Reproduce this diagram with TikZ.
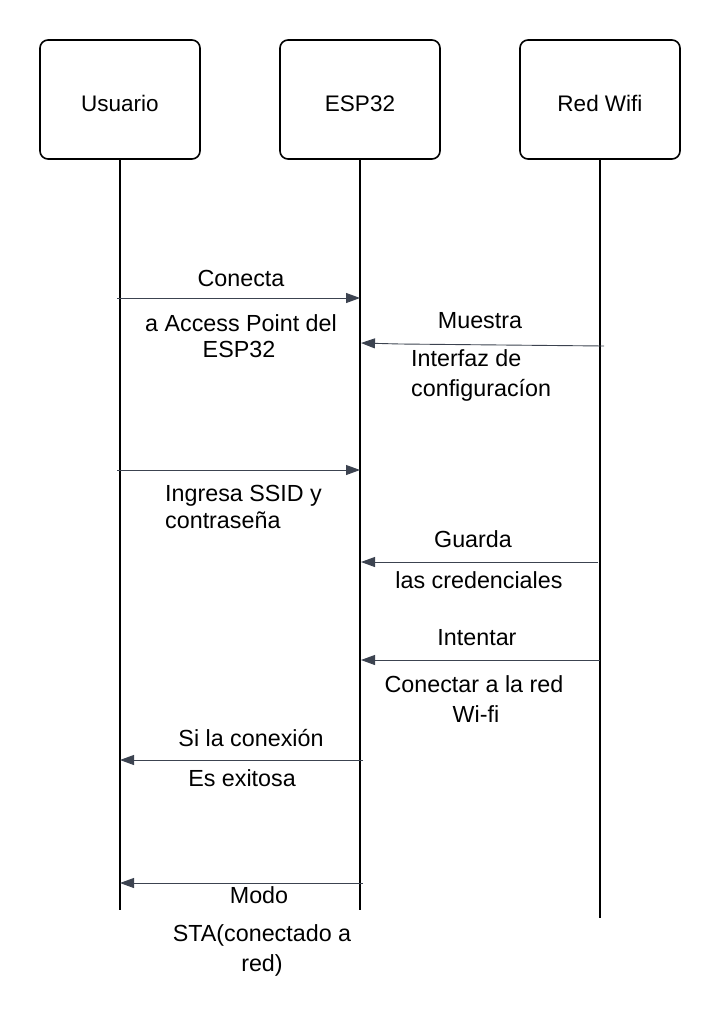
\documentclass[tikz,border=0pt]{standalone}
\usepackage{fontspec}
\setmainfont{Liberation Sans}
\usetikzlibrary{arrows.meta}
\definecolor{msgcol}{HTML}{3C4350}
\tikzset{
  actor/.style={draw=black, line width=1.6pt, rounded corners=8pt, minimum width=160pt, minimum height=119pt, inner sep=0pt, text height=24.5pt, text depth=0pt, font=\fontsize{22.5}{26}\selectfont},
  lifeline/.style={draw=black, line width=1.6pt},
  msg/.style={draw=msgcol, line width=0.9pt, -{Triangle[length=14pt,width=10pt]}},
  lbl/.style={inner sep=0pt, text height=0.72em, text depth=0pt, yshift=-5pt, font=\fontsize{23.3}{28}\selectfont, text=black}
}
\begin{document}
\begin{tikzpicture}[x=1pt,y=-1pt]
\useasboundingbox (0,0) rectangle (720,1021);
% actors
\node[actor] (u) at (120,99.5) {Usuario};
\node[actor] (e) at (360,99.5) {ESP32};
\node[actor] (r) at (600,99.5) {Red Wifi};
% lifeline ends
\coordinate (ub) at (120,910);
\coordinate (eb) at (360,910);
\coordinate (rb) at (600,918);
\draw[lifeline] (u.south) -- (ub);
\draw[lifeline] (e.south) -- (eb);
\draw[lifeline] (r.south) -- (rb);
% message endpoints
\coordinate (m1s) at (117,298); \coordinate (m1e) at (360,298);
\coordinate (m2s) at (604,346); \coordinate (m2k) at (400,344); \coordinate (m2e) at (361,343);
\coordinate (m3s) at (117,470); \coordinate (m3e) at (360,470);
\coordinate (m4s) at (598,562); \coordinate (m4e) at (361,562);
\coordinate (m5s) at (600,660); \coordinate (m5e) at (361,660);
\coordinate (m6s) at (363,760); \coordinate (m6e) at (120,760);
\coordinate (m7s) at (363,883); \coordinate (m7e) at (120,883);
\draw[msg] (m1s) -- (m1e);
\draw[msg] (m2s) -- (m2k) -- (m2e);
\draw[msg] (m3s) -- (m3e);
\draw[msg] (m4s) -- (m4e);
\draw[msg] (m5s) -- (m5e);
\draw[msg] (m6s) -- (m6e);
\draw[msg] (m7s) -- (m7e);
% labels
\node[lbl] (t1a) at (241,278) {Conecta};
\node[lbl] (t1b) at (241,323) {a Access Point del};
\node[lbl] (t1c) at (239,349) {ESP32};
\node[lbl] (t2a) at (480,320) {Muestra};
\node[lbl, anchor=west] (t2b) at (411,358) {Interfaz de};
\node[lbl, anchor=west] (t2c) at (411,388) {configuracíon};
\node[lbl, anchor=west] (t3a) at (165,493) {Ingresa SSID y};
\node[lbl, anchor=west] (t3b) at (165,520) {contraseña};
\node[lbl] (t4a) at (473,539) {Guarda};
\node[lbl] (t4b) at (479,580) {las credenciales};
\node[lbl] (t5a) at (477,637) {Intentar};
\node[lbl] (t5b) at (474,684) {Conectar a la red};
\node[lbl] (t5c) at (476,714) {Wi-fi};
\node[lbl] (t6a) at (251,738) {Si la conexión};
\node[lbl] (t6b) at (242,778) {Es exitosa};
\node[lbl] (t7a) at (259,895) {Modo};
\node[lbl] (t7b) at (262,933) {STA(conectado a};
\node[lbl] (t7c) at (262,963) {red)};
\end{tikzpicture}
\end{document}
